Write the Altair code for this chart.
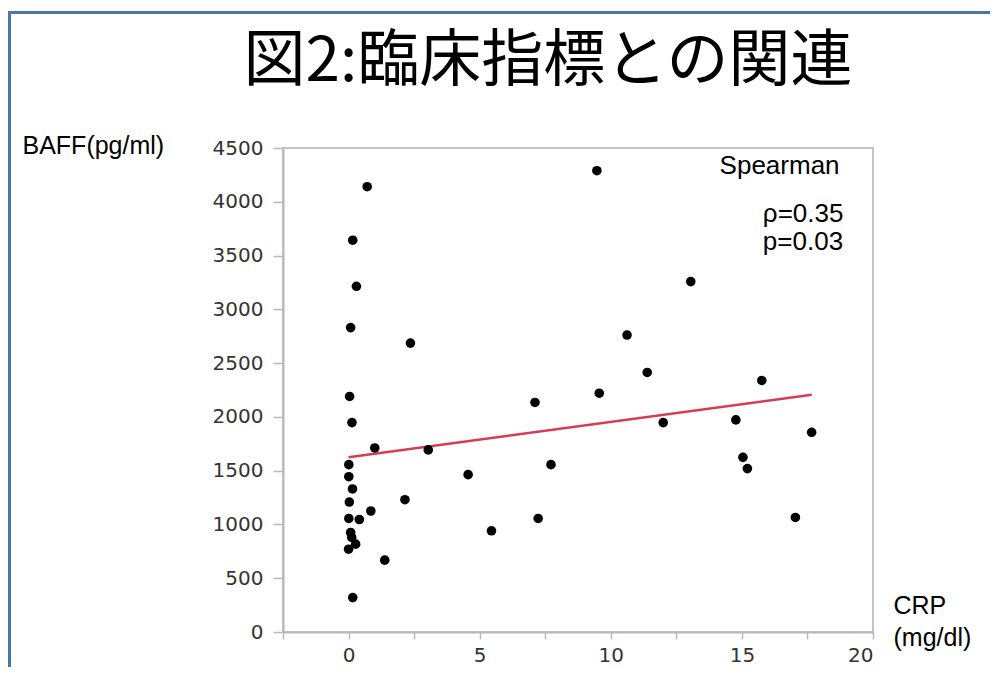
import altair as alt
import pandas as pd

# ---- data ----
crp = [0.71, 0.16, 0.30, 0.08, 2.36, 0.04, 0.13, 1.00, 0.01, 0.01,
       0.15, 0.03, 2.15, 0.01, 0.41, 0.85, 0.08, 0.12, 0.27, 0.00,
       1.38, 0.16, 3.04, 4.56, 5.45, 9.47, 13.05, 10.62, 11.39, 9.56,
       7.11, 12.00, 7.72, 7.23, 15.76, 14.77, 17.66, 15.04, 15.21, 17.04]
baff = [4140, 3643, 3214, 2830, 2686, 2190, 1947, 1711, 1556, 1444,
        1330, 1208, 1230, 1056, 1046, 1125, 925, 879, 817, 770,
        668, 320, 1693, 1463, 941, 4289, 3258, 2761, 2413, 2220,
        2134, 1947, 1556, 1056, 2339, 1972, 1857, 1624, 1519, 1065]

fit_crp = [0.0, 17.66]
fit_baff = [1624, 2205]

x_ticks = [-2.5, 0, 2.5, 5, 7.5, 10, 12.5, 15, 17.5, 20]
y_ticks = [0, 500, 1000, 1500, 2000, 2500, 3000, 3500, 4000, 4500]

note_text = ["Spearman", "ρ=0.35", "p=0.03"]
note_crp = [14.15, 15.8, 15.8]
note_baff = [4330, 3890, 3630]

title_text = "図2:臨床指標との関連"

W, H = 590, 484
PAD = {"left": 275, "top": 140, "right": 117, "bottom": 35}

df = pd.DataFrame({"crp": crp, "baff": baff})
fit = pd.DataFrame({"crp": fit_crp, "baff": fit_baff})
notes = pd.DataFrame({"crp": note_crp, "baff": note_baff, "text": note_text})
one = pd.DataFrame({"a": [0]})
ttl = pd.DataFrame({"t": [title_text]})

xscale = alt.Scale(domain=[-2.5, 20], nice=False, zero=False)
yscale = alt.Scale(domain=[0, 4500], nice=False, zero=False)

axis_common = dict(
    grid=False, domainColor="#b8b8b8", domainWidth=2, tickColor="#b8b8b8",
    tickWidth=1.5, labelFont="DejaVu Sans", labelFontSize=20, labelColor="#333333",
    titleFont="Liberation Sans", titleFontSize=25, titleFontWeight="normal",
    titleColor="#000000",
)

points = alt.Chart(df).mark_circle(size=92, color="#000000", opacity=1).encode(
    x=alt.X("crp:Q", scale=xscale,
            axis=alt.Axis(values=x_ticks, labelExpr="datum.value % 5 == 0 ? datum.label : ''",
                          tickSize=7, labelPadding=6, title=["CRP", "(mg/dl)"],
                          titleAngle=0, titleAlign="left", titleBaseline="middle",
                          titleX=610, titleY=-27, titleLineHeight=32, **axis_common)),
    y=alt.Y("baff:Q", scale=yscale,
            axis=alt.Axis(values=y_ticks, format="d", tickSize=10, labelPadding=10,
                          title="BAFF(pg/ml)", titleAngle=0, titleAlign="left",
                          titleBaseline="middle", titleX=-261, titleY=-3, **axis_common)),
)

line = alt.Chart(fit).mark_line(color="#d63c55", strokeWidth=2.5).encode(
    x=alt.X("crp:Q", scale=xscale), y=alt.Y("baff:Q", scale=yscale))

text = alt.Chart(notes).mark_text(align="left", baseline="middle", font="Liberation Sans",
                                  fontSize=26, color="#000000").encode(
    x=alt.X("crp:Q", scale=xscale), y=alt.Y("baff:Q", scale=yscale), text="text:N")

title_mark = alt.Chart(ttl).mark_text(align="center", baseline="alphabetic",
                                      font="Noto Sans CJK JP", fontSize=62,
                                      fontWeight="normal", color="#000000").encode(
    x=alt.value(265), y=alt.value(-67), text="t:N")

border_col = "#4a76aa"
top_border = alt.Chart(one).mark_rule(color=border_col, strokeWidth=3, strokeCap="butt").encode(
    x=alt.value(-PAD["left"] + 0.5), x2=alt.value(W + PAD["right"]), y=alt.value(-135.5))
left_border = alt.Chart(one).mark_rule(color=border_col, strokeWidth=3, strokeCap="butt").encode(
    x=alt.value(-PAD["left"] + 1.5), y=alt.value(-137), y2=alt.value(H + PAD["bottom"]))

chart = alt.layer(top_border, left_border, title_mark, line, points, text).properties(
    width=W, height=H,
    autosize=alt.AutoSizeParams(type="none"),
    padding=PAD,
    background="white",
).configure_view(stroke="#c4c4c4", strokeWidth=2)

chart.save("out.html", embed_options={"renderer": "svg", "actions": False})
